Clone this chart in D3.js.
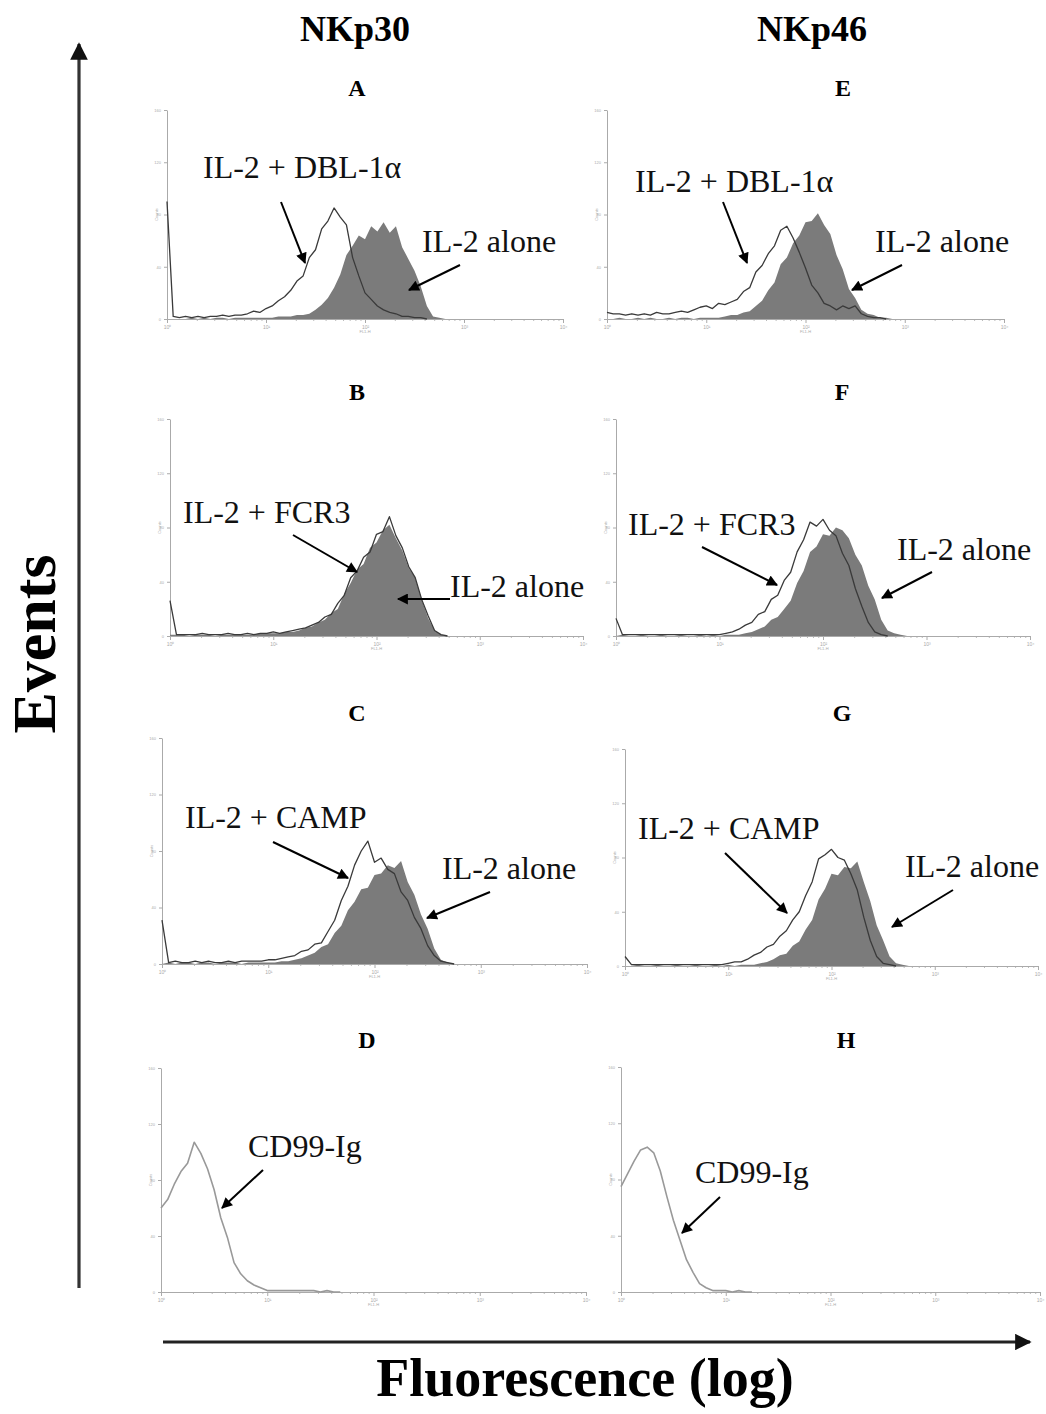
<!DOCTYPE html>
<html>
<head>
<meta charset="utf-8">
<script src="https://cdn.jsdelivr.net/npm/d3@7"></script>
<style>
  body { margin: 0; background: #fff; }
  svg { display: block; }
</style>
</head>
<body>
<div id="chart"></div>
<script>
var width = 1046
var height = 1414

// histogram counts, one value per 1/16 decade starting at 10^0
var binsPerDecade = 16
var columnTitles = ["NKp30", "NKp46"]
var countTicks = [0, 40, 80, 120, 160]
var fluorTicks = [1, 10, 100, 1000, 10000]
var fluorTickLabels = ["10\u2070", "10\u00b9", "10\u00b2", "10\u00b3", "10\u2074"]

// NKp30
var aloneA = [0, 0, 0, 0, 1, 0, 1, 0, 1, 1, 0, 1, 1, 1, 1, 1, 1, 1, 2, 2, 2, 3, 3, 4, 7, 11, 16, 24, 34, 49, 56, 64, 61, 71, 67, 74, 66, 71, 55, 46, 37, 25, 10, 2, 1, 0]
var dblA = [90, 2, 1, 2, 1, 2, 1, 2, 2, 3, 2, 3, 3, 4, 6, 5, 8, 10, 14, 17, 22, 29, 33, 47, 53, 69, 75, 85, 78, 72, 47, 33, 20, 15, 10, 7, 5, 4, 2, 2, 1, 1, 0]
var aloneB = [1, 1, 1, 0, 1, 1, 1, 0, 1, 1, 1, 1, 1, 1, 2, 2, 2, 2, 3, 3, 4, 6, 7, 10, 12, 17, 20, 31, 39, 49, 53, 65, 69, 78, 82, 72, 63, 50, 43, 27, 13, 4, 1, 0]
var fcr3B = [26, 1, 1, 1, 1, 2, 1, 1, 1, 2, 1, 1, 2, 1, 2, 2, 3, 2, 3, 4, 5, 6, 8, 10, 14, 16, 24, 30, 43, 48, 58, 62, 75, 77, 88, 74, 65, 51, 43, 27, 15, 4, 1, 0]
var aloneC = [0, 1, 0, 1, 1, 0, 1, 1, 0, 1, 1, 1, 0, 1, 1, 1, 1, 1, 2, 2, 3, 4, 6, 8, 12, 14, 22, 27, 38, 44, 53, 54, 63, 64, 70, 68, 73, 58, 49, 35, 25, 11, 3, 1, 0]
var campC = [31, 1, 2, 1, 1, 2, 1, 2, 1, 1, 2, 1, 2, 2, 2, 2, 3, 3, 4, 5, 6, 9, 10, 14, 15, 23, 31, 45, 55, 70, 80, 87, 72, 75, 67, 64, 51, 45, 33, 25, 13, 6, 2, 1, 0]
var cd99D = [60, 66, 77, 86, 92, 107, 99, 88, 73, 53, 39, 21, 13, 8, 5, 3, 1, 1, 1, 1, 1, 1, 1, 1, 0, 1, 0, 0]

// NKp46
var aloneE = [0, 0, 1, 0, 0, 1, 0, 1, 0, 0, 1, 0, 1, 1, 0, 1, 1, 1, 1, 2, 3, 3, 5, 6, 10, 14, 22, 28, 42, 47, 58, 64, 74, 75, 81, 72, 65, 49, 38, 23, 16, 7, 4, 3, 1, 1, 0]
var dblE = [5, 4, 4, 3, 4, 3, 4, 3, 5, 4, 4, 5, 6, 5, 7, 9, 10, 8, 12, 11, 13, 15, 21, 24, 36, 41, 50, 56, 68, 71, 62, 51, 39, 26, 20, 12, 10, 7, 10, 8, 10, 4, 2, 1, 1, 0]
var aloneF = [0, 1, 0, 0, 1, 0, 0, 1, 0, 0, 1, 0, 0, 1, 0, 1, 0, 1, 1, 1, 2, 3, 5, 7, 12, 14, 20, 26, 39, 48, 62, 66, 75, 74, 80, 78, 72, 60, 52, 37, 27, 12, 4, 2, 1, 0]
var fcr3F = [13, 1, 1, 1, 1, 1, 1, 1, 1, 1, 1, 1, 1, 1, 1, 1, 1, 2, 3, 5, 8, 10, 16, 18, 27, 30, 41, 47, 62, 71, 84, 81, 86, 78, 74, 61, 52, 35, 22, 10, 3, 1, 0]
var aloneG = [0, 0, 1, 0, 0, 1, 0, 0, 1, 0, 0, 1, 0, 0, 1, 0, 1, 0, 1, 1, 1, 2, 3, 5, 8, 9, 15, 18, 27, 34, 49, 57, 68, 67, 73, 72, 77, 62, 48, 30, 19, 7, 2, 1, 0]
var campG = [7, 1, 1, 1, 1, 1, 1, 1, 1, 1, 1, 1, 1, 1, 1, 1, 2, 3, 3, 5, 8, 10, 14, 16, 22, 26, 34, 40, 52, 62, 79, 82, 86, 80, 78, 68, 56, 36, 19, 7, 2, 1, 0]
var cd99H = [75, 84, 93, 101, 103, 99, 86, 68, 51, 37, 23, 14, 6, 3, 1, 1, 1, 0, 1, 0, 0]

var panels = [
  { id: "A", filled: aloneA, outline: dblA, labels: ["IL-2 + DBL-1\u03b1", "IL-2 alone"] },
  { id: "B", filled: aloneB, outline: fcr3B, labels: ["IL-2 + FCR3", "IL-2 alone"] },
  { id: "C", filled: aloneC, outline: campC, labels: ["IL-2 + CAMP", "IL-2 alone"] },
  { id: "D", filled: null, outline: cd99D, labels: ["CD99-Ig"] },
  { id: "E", filled: aloneE, outline: dblE, labels: ["IL-2 + DBL-1\u03b1", "IL-2 alone"] },
  { id: "F", filled: aloneF, outline: fcr3F, labels: ["IL-2 + FCR3", "IL-2 alone"] },
  { id: "G", filled: aloneG, outline: campG, labels: ["IL-2 + CAMP", "IL-2 alone"] },
  { id: "H", filled: null, outline: cd99H, labels: ["CD99-Ig"] }
]

// where each panel sits on the page
var layout = {
  A: { x0: 167, x1: 563, top: 110, base: 319, letter: [357, 96],
       text: [[203, 178], [422, 252]], arrows: [[281, 202, 305, 263], [460, 265, 409, 290]] },
  B: { x0: 170, x1: 583, top: 419, base: 636, letter: [357, 400],
       text: [[183, 523], [450, 597]], arrows: [[293, 535, 357, 572], [450, 599, 398, 599]] },
  C: { x0: 162, x1: 587, top: 738, base: 964, letter: [357, 721],
       text: [[185, 828], [442, 879]], arrows: [[273, 842, 348, 878], [490, 892, 427, 918]] },
  D: { x0: 161, x1: 586, top: 1068, base: 1292, letter: [367, 1048],
       text: [[248, 1157]], arrows: [[263, 1170, 222, 1208]] },
  E: { x0: 607, x1: 1004, top: 110, base: 319, letter: [843, 96],
       text: [[635, 192], [875, 252]], arrows: [[723, 202, 747, 263], [902, 265, 852, 290]] },
  F: { x0: 616, x1: 1030, top: 419, base: 636, letter: [842, 400],
       text: [[628, 535], [897, 560]], arrows: [[702, 547, 777, 585], [932, 572, 882, 598]] },
  G: { x0: 625, x1: 1038, top: 749, base: 966, letter: [842, 721],
       text: [[638, 839], [905, 877]], arrows: [[725, 853, 787, 913], [953, 890, 892, 927]] },
  H: { x0: 621, x1: 1040, top: 1067, base: 1292, letter: [846, 1048],
       text: [[695, 1183]], arrows: [[720, 1197, 682, 1233]] }
}

var serif = "'Liberation Serif', 'Times New Roman', serif"

var svg = d3.select('#chart')
  .append('svg')
  .attr('width', width)
  .attr('height', height)

svg.append('rect').attr('width', width).attr('height', height).attr('fill', '#fff')

var defs = svg.append('defs')
defs.append('marker')
  .attr('id', 'head')
  .attr('viewBox', '0 0 10 10')
  .attr('refX', 9).attr('refY', 5)
  .attr('markerWidth', 6).attr('markerHeight', 5.5)
  .attr('markerUnits', 'strokeWidth')
  .attr('orient', 'auto')
  .append('path').attr('d', 'M0,0 L10,5 L0,10 Z').attr('fill', '#000')

defs.append('marker')
  .attr('id', 'bigHead')
  .attr('viewBox', '0 0 10 10')
  .attr('refX', 9).attr('refY', 5)
  .attr('markerWidth', 6.5).attr('markerHeight', 5.5)
  .attr('markerUnits', 'strokeWidth')
  .attr('orient', 'auto')
  .append('path').attr('d', 'M0,0 L10,5 L0,10 Z').attr('fill', '#111')

// big Events / Fluorescence arrows
svg.append('line')
  .attr('x1', 79).attr('y1', 1288).attr('x2', 79).attr('y2', 44)
  .attr('stroke', '#333').attr('stroke-width', 3.2)
  .attr('marker-end', 'url(#bigHead)')

svg.append('line')
  .attr('x1', 163).attr('y1', 1342).attr('x2', 1030).attr('y2', 1342)
  .attr('stroke', '#222').attr('stroke-width', 3)
  .attr('marker-end', 'url(#bigHead)')

svg.append('text')
  .attr('transform', 'translate(55,644) rotate(-90)')
  .attr('text-anchor', 'middle')
  .style('font-family', serif).style('font-weight', 'bold').style('font-size', '62px')
  .text('Events')

svg.append('text')
  .attr('x', 585).attr('y', 1396)
  .attr('text-anchor', 'middle')
  .style('font-family', serif).style('font-weight', 'bold').style('font-size', '54px')
  .text('Fluorescence (log)')

svg.selectAll('.colTitle')
  .data(columnTitles)
  .enter()
  .append('text')
  .attr('class', 'colTitle')
  .attr('x', function (d, i) { return i == 0 ? 355 : 812 })
  .attr('y', 41)
  .attr('text-anchor', 'middle')
  .style('font-family', serif).style('font-weight', 'bold').style('font-size', '36px')
  .text(function (d) { return d })

function fluor(i) { return Math.pow(10, i / binsPerDecade) }

panels.forEach(function (p) {
  var L = layout[p.id]
  var g = svg.append('g')

  var x = d3.scaleLog().domain([1, 10000]).range([L.x0, L.x1])
  var y = d3.scaleLinear().domain([0, 160]).range([L.base, L.top])

  // minor log ticks
  var minor = []
  for (var dec = 1; dec < 10000; dec *= 10) {
    for (var m = 2; m < 10; m++) minor.push(dec * m)
  }
  g.append('g')
    .attr('transform', 'translate(0,' + L.base + ')')
    .call(d3.axisBottom(x).tickValues(minor).tickSize(2).tickFormat(''))
    .call(function (a) { a.select('.domain').remove() })
    .selectAll('line').attr('stroke', '#bbb')

  var xa = g.append('g')
    .attr('transform', 'translate(0,' + L.base + ')')
    .call(d3.axisBottom(x).tickValues(fluorTicks).tickSize(4).tickSizeOuter(0)
      .tickFormat(function (d, i) { return fluorTickLabels[i] }))
  xa.select('.domain').attr('stroke', '#aaa')
  xa.selectAll('line').attr('stroke', '#aaa')
  xa.selectAll('text').attr('fill', '#aaa').style('font-size', '5px').attr('dy', '0.5em')

  var ya = g.append('g')
    .attr('transform', 'translate(' + L.x0 + ',0)')
    .call(d3.axisLeft(y).tickValues(countTicks).tickSize(3).tickSizeOuter(0))
  ya.select('.domain').attr('stroke', '#aaa')
  ya.selectAll('line').attr('stroke', '#aaa')
  ya.selectAll('text').attr('fill', '#aaa').style('font-size', '4px')

  g.append('text')
    .attr('x', (L.x0 + L.x1) / 2).attr('y', L.base + 14)
    .attr('text-anchor', 'middle').attr('fill', '#aaa').style('font-size', '4px')
    .style('font-family', 'sans-serif')
    .text('FL1-H')
  g.append('text')
    .attr('transform', 'translate(' + (L.x0 - 9) + ',' + ((L.top + L.base) / 2) + ') rotate(-90)')
    .attr('text-anchor', 'middle').attr('fill', '#aaa').style('font-size', '4px')
    .style('font-family', 'sans-serif')
    .text('Counts')

  if (p.filled) {
    var area = d3.area()
      .x(function (d, i) { return x(fluor(i)) })
      .y0(L.base)
      .y1(function (d) { return y(d) })
    g.append('path')
      .datum(p.filled)
      .attr('d', area)
      .attr('fill', '#7b7b7b')
  }

  var line = d3.line()
    .x(function (d, i) { return x(fluor(i)) })
    .y(function (d) { return y(d) })
  g.append('path')
    .datum(p.outline)
    .attr('d', line)
    .attr('fill', 'none')
    .attr('stroke', p.filled ? '#3a3a3a' : '#999')
    .attr('stroke-width', p.filled ? 1.3 : 1.6)
    .attr('stroke-linejoin', 'round')

  g.append('text')
    .attr('x', L.letter[0]).attr('y', L.letter[1])
    .attr('text-anchor', 'middle')
    .style('font-family', serif).style('font-weight', 'bold').style('font-size', '24px')
    .text(p.id)

  p.labels.forEach(function (t, k) {
    g.append('text')
      .attr('x', L.text[k][0]).attr('y', L.text[k][1])
      .style('font-family', serif).style('font-size', '32px')
      .attr('fill', '#111')
      .text(t)
  })

  L.arrows.forEach(function (a) {
    g.append('line')
      .attr('x1', a[0]).attr('y1', a[1]).attr('x2', a[2]).attr('y2', a[3])
      .attr('stroke', '#000').attr('stroke-width', 2)
      .attr('marker-end', 'url(#head)')
  })
})
</script>
</body>
</html>
